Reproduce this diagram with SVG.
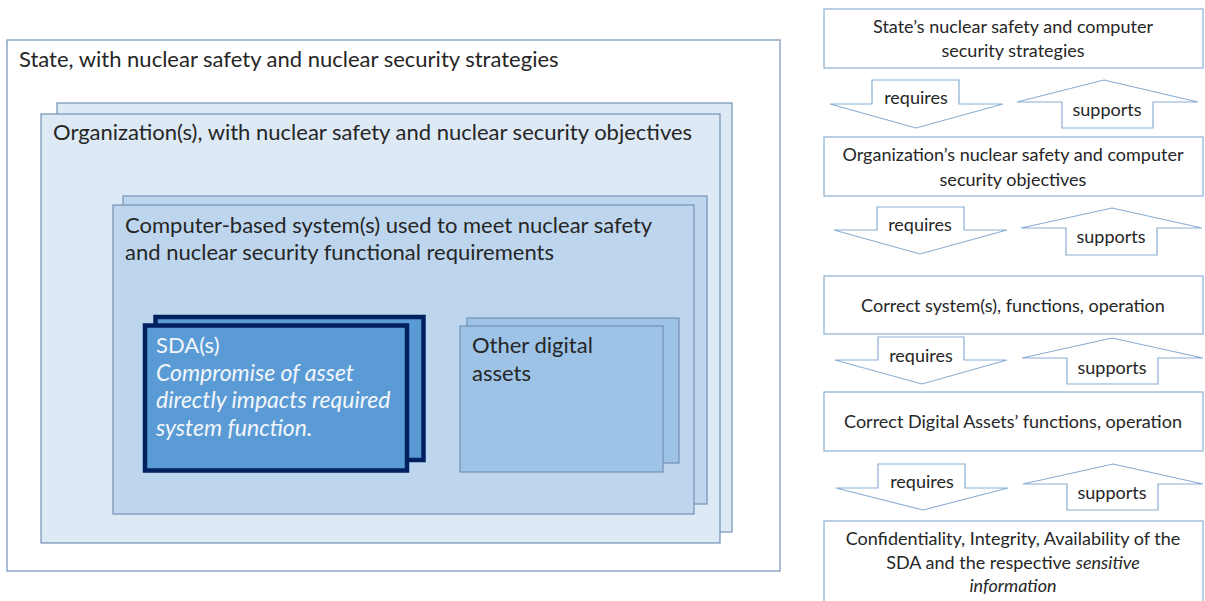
<svg xmlns="http://www.w3.org/2000/svg" width="1205" height="601" viewBox="0 0 1205 601">
  <style>
    .box { stroke: #7391b5; stroke-width: 1.2; }
    .state { fill: #ffffff; }
    .org { fill: #dde9f5; }
    .cbs { fill: #bdd6ee; }
    .oda { fill: #9dc3e6; }
    .sda { fill: #5b9bd5; stroke: #002060; stroke-width: 4.5; }
    .flow { fill: #ffffff; stroke: #8eb0d3; stroke-width: 1.2; }
    .arrow { fill: #ffffff; stroke: #8aaed2; stroke-width: 1.2; stroke-linejoin: miter; }
    .t { font-family: Lato, "Noto Sans", sans-serif; fill: #262626; }
    .big { font-size: 22px; }
    .small { font-size: 18px; }
    .mid { text-anchor: middle; }
    .w { fill: #f2f6fb; }
    .it { font-style: italic; }
    .big.it { font-size: 23px; }
  </style>

  <!-- Left: nested scopes -->
  <g id="state">
    <rect class="box state" x="7" y="40" width="773" height="531"/>
    <text class="t big" x="19" y="67">State, with nuclear safety and  nuclear security strategies</text>
  </g>

  <g id="organization">
    <rect class="box org" x="57" y="103" width="675" height="429"/>
    <rect class="box org" x="41" y="114" width="679" height="429"/>
    <text class="t big" x="53" y="140">Organization(s), with nuclear safety and nuclear security objectives</text>
  </g>

  <g id="computer-based-systems">
    <rect class="box cbs" x="123" y="196" width="584" height="308"/>
    <rect class="box cbs" x="113" y="205" width="581" height="309"/>
    <text class="t big" x="125" y="233">Computer-based system(s) used to meet nuclear safety</text>
    <text class="t big" x="125" y="260">and nuclear security functional requirements</text>
  </g>

  <g id="sda">
    <rect class="sda" x="155.5" y="317" width="268" height="143"/>
    <rect class="sda" x="145" y="325.5" width="262" height="145"/>
    <text class="t big w" x="156" y="353">SDA(s)</text>
    <text class="t big w it" x="156" y="381">Compromise of asset</text>
    <text class="t big w it" x="156" y="408">directly impacts required</text>
    <text class="t big w it" x="156" y="436">system function.</text>
  </g>

  <g id="other-digital-assets">
    <rect class="box oda" x="467" y="318" width="212" height="145"/>
    <rect class="box oda" x="460" y="326" width="203" height="146"/>
    <text class="t big" x="472" y="353">Other digital</text>
    <text class="t big" x="472" y="381">assets</text>
  </g>

  <!-- Right: chain of levels -->
  <g id="level-state">
    <rect class="flow" x="824" y="9" width="379" height="59"/>
    <text class="t small mid" x="1013" y="33">State’s nuclear safety and computer</text>
    <text class="t small mid" x="1013" y="57">security strategies</text>
  </g>

  <g id="level-organization">
    <rect class="flow" x="824" y="137" width="379" height="59"/>
    <text class="t small mid" x="1013" y="161">Organization’s nuclear safety and computer</text>
    <text class="t small mid" x="1013" y="186">security objectives</text>
  </g>

  <g id="level-systems">
    <rect class="flow" x="824" y="276" width="379" height="58"/>
    <text class="t small mid" x="1013" y="312">Correct system(s), functions, operation</text>
  </g>

  <g id="level-assets">
    <rect class="flow" x="824" y="392" width="379" height="59"/>
    <text class="t small mid" x="1013" y="428">Correct Digital Assets’ functions, operation</text>
  </g>

  <g id="level-cia">
    <rect class="flow" x="824" y="521" width="379" height="90"/>
    <text class="t small mid" x="1013" y="545">Confidentiality, Integrity, Availability of the</text>
    <text class="t small mid" x="1013" y="569">SDA and the respective <tspan class="it">sensitive</tspan></text>
    <text class="t small mid it" x="1013" y="592">information</text>
  </g>

  <!-- requires / supports block arrows -->
  <g id="connectors">
    <g id="req-1">
      <polygon class="arrow" points="872,80 959,80 959,104 1003,104 916,128 830,104 872,104"/>
      <text class="t small mid" x="916" y="104">requires</text>
    </g>
    <g id="sup-1">
      <polygon class="arrow" points="1104,80 1198,102 1153,102 1153,128 1062,128 1062,102 1017,102"/>
      <text class="t small mid" x="1107" y="116">supports</text>
    </g>

    <g id="req-2">
      <polygon class="arrow" points="877,207 964,207 964,230 1007,230 920,254 834,230 877,230"/>
      <text class="t small mid" x="920" y="231">requires</text>
    </g>
    <g id="sup-2">
      <polygon class="arrow" points="1112,208 1202,228 1157,228 1157,255 1066,255 1066,228 1021,228"/>
      <text class="t small mid" x="1111" y="243">supports</text>
    </g>

    <g id="req-3">
      <polygon class="arrow" points="878,337 964,337 964,360 1007,360 922,384 835,360 878,360"/>
      <text class="t small mid" x="921" y="362">requires</text>
    </g>
    <g id="sup-3">
      <polygon class="arrow" points="1112,338 1203,358 1158,358 1158,384 1067,384 1067,358 1022,358"/>
      <text class="t small mid" x="1112" y="374">supports</text>
    </g>

    <g id="req-4">
      <polygon class="arrow" points="878,464 965,464 965,488 1008,488 923,510 836,488 878,488"/>
      <text class="t small mid" x="922" y="488">requires</text>
    </g>
    <g id="sup-4">
      <polygon class="arrow" points="1113,464 1203,484 1158,484 1158,510 1067,510 1067,484 1023,484"/>
      <text class="t small mid" x="1112" y="499">supports</text>
    </g>
  </g>
</svg>
